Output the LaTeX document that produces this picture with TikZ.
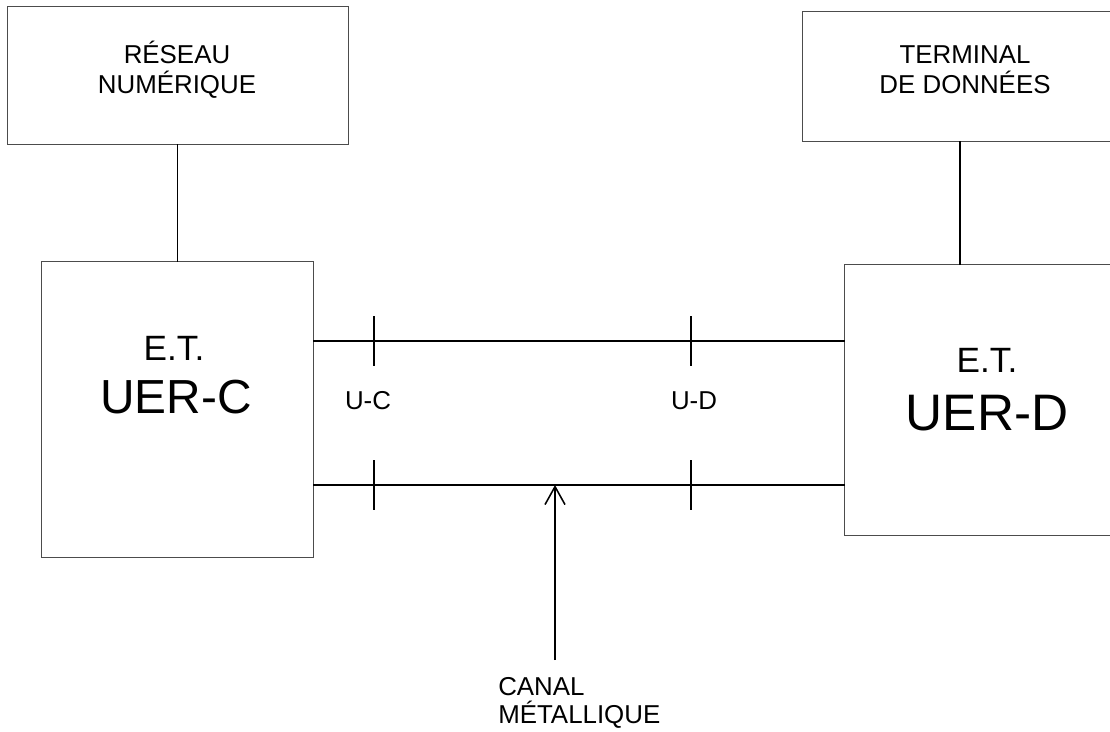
\documentclass[tikz,border=0pt]{standalone}
\usepackage{fontspec}
\setmainfont{Liberation Sans}
\usetikzlibrary{arrows.meta, positioning, calc}

\tikzset{
  box/.style={draw=black!70, line width=0.7pt, inner sep=0pt, outer sep=0pt},
  wire/.style={black, line width=1.1pt},
  lbl/.style={font=\fontsize{18.4}{21}\selectfont, anchor=base, inner sep=0pt},
  ettitle/.style={font=\fontsize{25}{28}\selectfont, anchor=base, inner sep=0pt},
  etname/.style={anchor=base, inner sep=0pt},
}

\begin{document}
\begin{tikzpicture}[x=0.025cm, y=-0.025cm]
\path[use as bounding box, clip] (0,0) rectangle (1110,731);
\fill[white] (0,0) rectangle (1110,731);

% ---- boxes ----
\node[box, minimum width=8.5cm, minimum height=3.425cm] (reseau) at (178,75.5) {};
\node[box, minimum width=8.125cm, minimum height=3.225cm] (terminal) at (965.5,76.5) {};
\node[box, minimum width=6.775cm, minimum height=7.375cm] (etuc) at (177.5,409.5) {};
\node[box, minimum width=7.1cm, minimum height=6.75cm] (etud) at (987,400) {};

% ---- box texts ----
\node[lbl] (reseau1) at (177,63) {RÉSEAU};
\node[lbl] (reseau2) at (177,93) {NUMÉRIQUE};
\node[lbl] (terminal1) at (965,63) {TERMINAL};
\node[lbl] (terminal2) at (965,93) {DE DONNÉES};
\node[ettitle] (etuc1) at (174,360) {E.T.};
\node[etname, font=\fontsize{34}{38}\selectfont] (etuc2) at (176,413) {UER-C};
\node[ettitle] (etud1) at (987,372) {E.T.};
\node[etname, font=\fontsize{36.5}{40}\selectfont] (etud2) at (987,430) {UER-D};

% ---- drops from the upper boxes ----
\draw[wire] (etuc.north) -- (etuc.north |- reseau.south);
\draw[wire] (terminal.south west) ++(157,0) coordinate (tdrop) -- (tdrop |- etud.north);

% ---- the two wires with interface ticks ----
\coordinate (uctop) at (374,341);
\coordinate (udtop) at (691,341);
\coordinate (ucbot) at (374,485);
\coordinate (udbot) at (691,485);
\draw[wire] (etuc.east |- uctop) -- (etud.west |- uctop);
\draw[wire] (etuc.east |- ucbot) -- (etud.west |- ucbot);
\foreach \p in {uctop,udtop,ucbot,udbot}{\draw[wire] (\p) ++(0,-25) -- ++(0,50);}
\node[lbl] (uclbl) at (368,409) {U-C};
\node[lbl] (udlbl) at (694,409) {U-D};

% ---- metallic channel ----
\coordinate (canaltip) at (555,485);
\coordinate (canalfoot) at (555,660);
\draw[wire, -{Straight Barb[length=4.5mm, width=5mm]}] (canalfoot) -- (canaltip);
\node[lbl, anchor=base west] (canal1) at (498,695) {CANAL};
\node[lbl, anchor=base west] (canal2) at (498,723) {MÉTALLIQUE};
\end{tikzpicture}
\end{document}
